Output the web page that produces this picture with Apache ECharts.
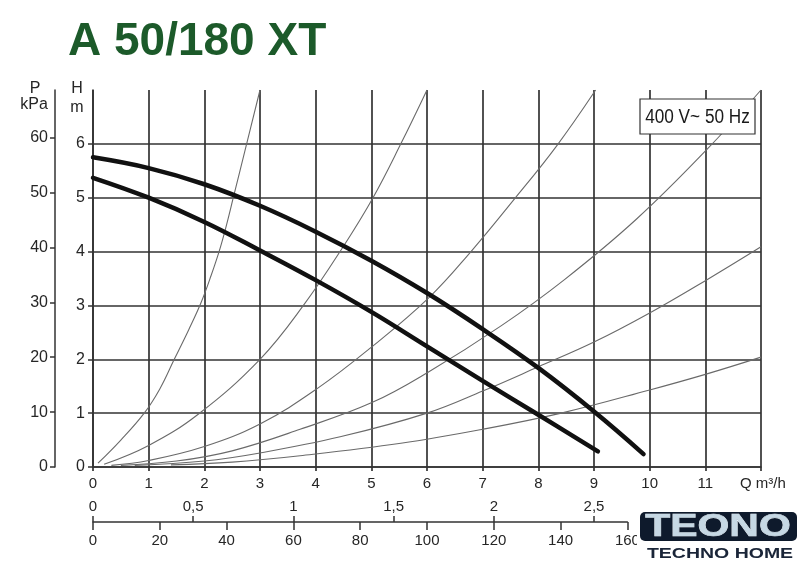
<!DOCTYPE html>
<html><head><meta charset="utf-8">
<script src="https://cdn.jsdelivr.net/npm/echarts@6/dist/echarts.min.js"></script>
<style>html,body{margin:0;padding:0;background:#fff}#c{width:811px;height:570px}</style>
</head><body><div id="c"></div>
<script>
// ---- data ----
const titleText = 'A 50/180 XT';
const voltageLabel = '400 V~ 50 Hz';
const qTicks = [0,1,2,3,4,5,6,7,8,9,10,11];
const hTicks = [0,1,2,3,4,5,6];
const pTicks = [0,10,20,30,40,50,60];
const lsTicks = [0,0.5,1,1.5,2,2.5];
const lminTicks = [0,20,40,60,80,100,120,140,160];

// pump curves [Q m3/h, H m]
const pumpMax = [[0,5.75],[1,5.55],[2,5.25],[3,4.85],[4,4.37],[5,3.83],[6,3.23],[7,2.56],[8,1.84],[9,1.03],[9.89,0.24]];
const pumpMin = [[0,5.37],[1,5.0],[2,4.55],[3,4.02],[4,3.47],[5,2.88],[6,2.24],[7,1.6],[8,0.97],[9.07,0.29]];

// system curves
const sysA = [[0.09,0.07],[0.5,0.5],[0.92,1.0],[1.2,1.45],[1.46,2.0],[1.72,2.55],[1.94,3.05],[2.12,3.55],[2.28,4.05],[2.4,4.5],[2.52,5.0],[2.76,6.0],[3.0,7.0]];
const sysB = [[0.2,0.05],[1.0,0.4],[1.89,0.98],[3.0,2.0],[3.78,3.0],[4.5,4.1],[5.03,5.0],[5.53,6.0],[6.0,7.0]];
const sysC = [[0.33,0.03],[1,0.12],[2,0.38],[3,0.8],[4.02,1.45],[5.02,2.24],[6.04,3.15],[6.79,4.0],[7.55,4.95],[8.32,5.95],[9.03,7.0]];
const sysD = [[0.5,0.03],[1.5,0.11],[2.5,0.3],[3.72,0.7],[5.02,1.2],[6.02,1.76],[7.33,2.62],[8.47,3.48],[9.76,4.6],[11.05,5.92],[12,7.0]];
const sysE = [[0.75,0.03],[2,0.11],[3,0.26],[4.44,0.56],[6,1.0],[7,1.41],[8,1.86],[9,2.32],[10,2.86],[11,3.46],[12,4.09]];
const sysF = [[1.4,0.04],[2.5,0.09],[3.72,0.21],[5.53,0.44],[7,0.7],[8.41,1.0],[10,1.43],[11,1.72],[12,2.04]];

// ---- chart ----
const FONT = "'Liberation Sans', Arial, Helvetica, sans-serif";
const TXT = '#262626';
const GRIDC = '#333333';
const chart = echarts.init(document.getElementById('c'), null, {renderer:'canvas'});

const thin = (d) => ({type:'line', data:d, smooth:0.4, symbol:'none', xAxisIndex:0, yAxisIndex:0,
  lineStyle:{color:'#6a6a6a', width:1.1}, z:3, silent:true});
const thick = (d) => ({type:'line', data:d, smooth:0.4, symbol:'none', xAxisIndex:0, yAxisIndex:0,
  lineStyle:{color:'#111', width:4.5, cap:'round'}, z:5, silent:true});

const lblStyle = {color:TXT, fontSize:15, fontFamily:FONT};

chart.setOption({
  animation:false,
  backgroundColor:'#fff',
  grid:[
    {left:93, top:90, width:668, height:377},
    {left:93, top:521, width:534.4, height:1}
  ],
  xAxis:[
    {type:'value', gridIndex:0, min:0, max:12, interval:1,
     axisLine:{show:true, lineStyle:{color:GRIDC, width:1.7}},
     axisTick:{show:true, length:4, lineStyle:{color:GRIDC, width:1.7}},
     axisLabel:Object.assign({}, lblStyle, {margin:9, customValues:qTicks, formatter:(v)=>String(v)}),
     splitLine:{show:true, lineStyle:{color:GRIDC, width:1.7}}},
    {type:'value', gridIndex:1, min:0, max:160/60, position:'bottom',
     axisLine:{show:true, lineStyle:{color:GRIDC, width:1.5}},
     axisTick:{show:true, inside:true, length:6, customValues:lsTicks, lineStyle:{color:GRIDC, width:1.5}},
     axisLabel:Object.assign({}, lblStyle, {inside:true, margin:8, customValues:lsTicks, formatter:(v)=>String(v).replace('.',',')}),
     splitLine:{show:false}},
    {type:'value', gridIndex:1, min:0, max:160, interval:20, position:'bottom',
     axisLine:{show:false},
     axisTick:{show:true, length:8, customValues:lminTicks, lineStyle:{color:GRIDC, width:1.5}},
     axisLabel:Object.assign({}, lblStyle, {margin:11, customValues:lminTicks}),
     splitLine:{show:false}}
  ],
  yAxis:[
    {type:'value', gridIndex:0, min:0, max:7, interval:1, position:'left',
     axisLine:{show:true, lineStyle:{color:GRIDC, width:1.7}},
     axisTick:{show:true, length:5, customValues:hTicks, lineStyle:{color:GRIDC, width:1.5}},
     axisLabel:Object.assign({}, lblStyle, {fontSize:16, margin:8, customValues:hTicks}),
     splitLine:{show:true, lineStyle:{color:GRIDC, width:1.7}}},
    {type:'value', gridIndex:0, min:0, max:7*9.81, position:'left', offset:38,
     axisLine:{show:true, lineStyle:{color:GRIDC, width:1.5}},
     axisTick:{show:true, length:5, customValues:pTicks, lineStyle:{color:GRIDC, width:1.5}},
     axisLabel:Object.assign({}, lblStyle, {fontSize:16, margin:7, customValues:pTicks}),
     splitLine:{show:false}},
    {type:'value', gridIndex:1, show:false, min:0, max:1}
  ],
  series:[
    thin(sysA), thin(sysB), thin(sysC), thin(sysD), thin(sysE), thin(sysF),
    thick(pumpMax), thick(pumpMin)
  ],
  graphic:[
    {type:'text', left:68, top:19, z:10, style:{text:titleText, fill:'#1c5a2a', font:"bold 46px "+FONT}},
    {type:'text', x:35, y:89, z:10, style:{text:'P', fill:TXT, font:'16px '+FONT, align:'center', verticalAlign:'middle'}},
    {type:'text', x:34, y:105, z:10, style:{text:'kPa', fill:TXT, font:'16px '+FONT, align:'center', verticalAlign:'middle'}},
    {type:'text', x:77, y:89, z:10, style:{text:'H', fill:TXT, font:'16px '+FONT, align:'center', verticalAlign:'middle'}},
    {type:'text', x:77, y:108, z:10, style:{text:'m', fill:TXT, font:'16px '+FONT, align:'center', verticalAlign:'middle'}},
    {type:'text', x:740, y:484, z:10, style:{text:'Q m³/h', fill:TXT, font:'15px '+FONT, align:'left', verticalAlign:'middle'}},
    {type:'rect', z:20, shape:{x:640, y:99, width:115, height:35}, style:{fill:'#fff', stroke:'#333', lineWidth:1.2}},
    {type:'text', z:21, x:697.5, y:117, scaleX:0.86, style:{text:voltageLabel, fill:'#1a1a1a', font:'20px '+FONT, align:'center', verticalAlign:'middle'}},
    // logo
    {type:'rect', z:30, shape:{x:637, y:511, width:174, height:59}, style:{fill:'#fff'}},
    {type:'rect', z:31, shape:{x:640, y:512, width:157, height:29, r:5}, style:{fill:'#0e1a2c'}},
    {type:'text', z:32, x:718, y:527, scaleX:1.32, style:{text:'TEONO', font:'bold 31px '+FONT, align:'center', verticalAlign:'middle',
      fill:'#c6d8e4', stroke:'#eef4f8', lineWidth:0.6}},
    {type:'text', z:32, x:720, y:554, scaleX:1.3, style:{text:'TECHNO HOME', font:'bold 15px '+FONT, align:'center', verticalAlign:'middle', fill:'#1a2538'}}
  ]
});
</script></body></html>
